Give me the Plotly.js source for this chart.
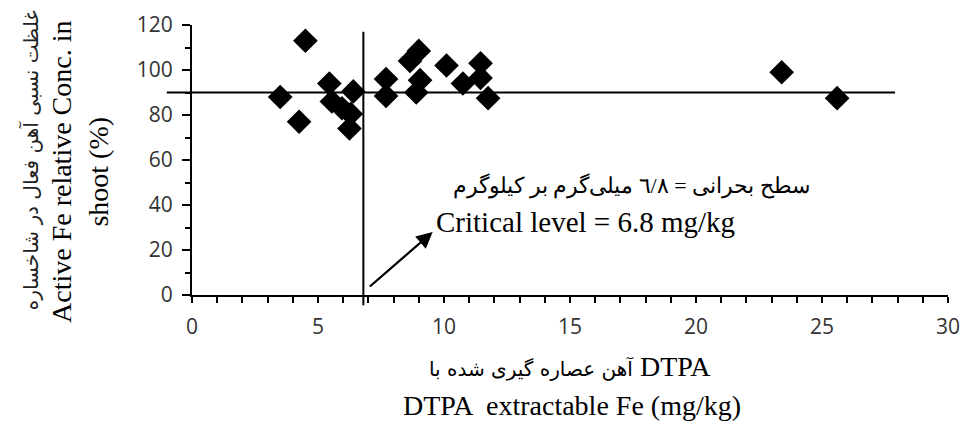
<!DOCTYPE html>
<html>
<head>
<meta charset="utf-8">
<script src="https://cdn.plot.ly/plotly-3.0.1.min.js"></script>
<style>html,body{margin:0;padding:0;background:#fff;}#chart{width:965px;height:421px;}</style>
</head>
<body>
<div id="chart"></div>
<script>
// DTPA extractable Fe (mg/kg)
const dtpaFe = [3.5, 4.5, 4.25, 5.45, 6.4, 5.55, 5.95, 6.3, 6.25, 7.7, 7.7, 9.0, 8.65, 9.05, 8.9, 10.1, 10.75, 11.45, 11.45, 11.75, 23.4, 25.6];
// Active Fe relative concentration in shoot (%)
const relConc = [88, 113, 77, 94, 90.5, 86, 83, 80.5, 74, 96, 88.5, 108.5, 104, 95.5, 90, 102, 94, 103, 96.5, 87.5, 99, 87.5];

const criticalLevel = 6.8;   // mg/kg
const relThreshold = 90;     // %
const xRange = [0, 30];
const yRange = [0, 120];
const xTicks = [0, 5, 10, 15, 20, 25, 30];
const yTicks = [0, 20, 40, 60, 80, 100, 120];

const critFa = 'سطح بحرانی = ٦/٨ میلی‌گرم بر کیلوگرم';
const critEn = 'Critical level = 6.8 mg/kg';
const yTitleFa = 'غلظت نسبی آهن فعال در شاخساره';
const yTitleEn = 'Active Fe relative Conc. in<br>shoot (%)';
const xTitleFa = 'آهن عصاره گیری شده با';
const xTitleFaTail = 'DTPA';
const xTitleEn = 'DTPA  extractable Fe (mg/kg)';

const xp = v => (v - xRange[0]) / (xRange[1] - xRange[0]);
const yp = v => (v - yRange[0]) / (yRange[1] - yRange[0]);

const serif = 'Liberation Serif, Times New Roman, serif';
const tickFont = {family: 'Open Sans, sans-serif', size: 21, color: '#333'};

const data = [{
  type: 'scatter', mode: 'markers',
  x: dtpaFe, y: relConc,
  marker: {symbol: 'diamond', size: 19, color: '#000'},
  cliponaxis: false, hoverinfo: 'x+y'
}];

const layout = {
  width: 965, height: 421,
  margin: {l: 192, r: 17, t: 25, b: 126},
  paper_bgcolor: '#fff', plot_bgcolor: '#fff',
  showlegend: false,
  xaxis: {
    range: xRange, tickvals: xTicks, showgrid: false, zeroline: false,
    showline: true, linecolor: '#000', linewidth: 2,
    ticks: 'outside', ticklen: 6, tickwidth: 2, tickcolor: '#000',
    minor: {dtick: 1, ticks: 'outside', ticklen: 6, tickwidth: 2, tickcolor: '#000', showgrid: false},
    tickfont: tickFont, ticklabelstandoff: 6
  },
  yaxis: {
    range: yRange, tickvals: yTicks, showgrid: false, zeroline: false,
    showline: true, linecolor: '#000', linewidth: 2,
    ticks: 'outside', ticklen: 8, tickwidth: 2, tickcolor: '#000',
    minor: {dtick: 10, ticks: 'outside', ticklen: 5, tickwidth: 2, tickcolor: '#000', showgrid: false},
    tickfont: tickFont, ticklabelstandoff: 5
  },
  shapes: [
    {type: 'line', xref: 'paper', yref: 'y', x0: xp(-1), x1: xp(27.9), y0: relThreshold, y1: relThreshold,
     line: {color: '#000', width: 2}, layer: 'above'},
    {type: 'line', xref: 'x', yref: 'paper', x0: criticalLevel, x1: criticalLevel, y0: yp(-4.5), y1: yp(117),
     line: {color: '#000', width: 2}, layer: 'above'}
  ],
  annotations: [
    {xref: 'x', yref: 'y', axref: 'x', ayref: 'y', x: 9.55, y: 28, ax: 7.0, ay: 3.2, text: '',
     showarrow: true, arrowhead: 2, arrowsize: 1.4, arrowwidth: 2.3, arrowcolor: '#000', standoff: 0},
    {xref: 'x', yref: 'y', x: 24.6, y: 48.5, xanchor: 'right', yanchor: 'middle', text: critFa, showarrow: false,
     font: {family: serif, size: 22, color: '#000'}},
    {xref: 'x', yref: 'y', x: 9.6, y: 32.5, xanchor: 'left', yanchor: 'middle', text: critEn, showarrow: false,
     font: {family: serif, size: 29, color: '#000'}},
    {xref: 'paper', yref: 'paper', x: -0.148, y: 0.456, xanchor: 'center', yanchor: 'middle', textangle: -90,
     text: yTitleEn, showarrow: false, font: {family: serif, size: 28, color: '#000'}},
    {xref: 'paper', yref: 'paper', x: -0.214, y: 0.5, xanchor: 'center', yanchor: 'middle', textangle: -90,
     text: yTitleFa, showarrow: false, font: {family: 'DejaVu Sans, sans-serif', size: 20, color: '#222'}},
    {xref: 'paper', yref: 'paper', x: 0.5, y: -0.263, xanchor: 'center', yanchor: 'middle',
     text: '<span style="font-family:DejaVu Sans;font-size:20px">' + xTitleFa + '</span> ' + xTitleFaTail,
     showarrow: false, font: {family: serif, size: 28, color: '#000'}},
    {xref: 'paper', yref: 'paper', x: 0.503, y: -0.411, xanchor: 'center', yanchor: 'middle',
     text: xTitleEn, showarrow: false, font: {family: serif, size: 28, color: '#000'}}
  ]
};

Plotly.newPlot('chart', data, layout, {displayModeBar: false, staticPlot: true});
</script>
</body>
</html>
